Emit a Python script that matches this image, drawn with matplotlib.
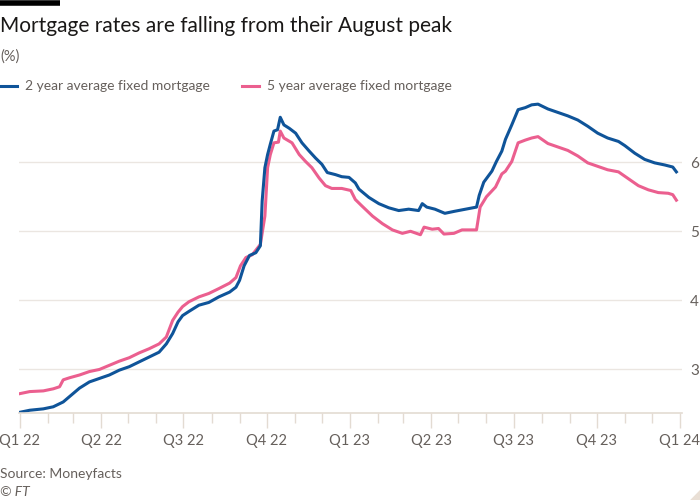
import pandas as pd
import matplotlib
matplotlib.use("Agg")
import matplotlib.pyplot as plt
import matplotlib.dates as mdates
from matplotlib.lines import Line2D
from matplotlib.patches import Polygon

# data: days since 1 Jan 2022 and rate (%)
start = pd.Timestamp("2022-01-01")

two_year_days = [0, 11, 26, 37, 48, 57, 66, 77, 88, 99, 110, 121, 132, 143, 154,
                 162, 169, 175, 180, 187, 198, 209, 220, 232, 239, 243, 248, 254,
                 261, 266, 268, 271, 274, 277, 281, 285, 288, 292, 298, 305, 312,
                 320, 327, 334, 340, 349, 356, 364, 371, 375, 386, 397, 408, 419,
                 430, 441, 445, 450, 459, 470, 481, 493, 505, 508, 513, 522, 527,
                 533, 537, 544, 551, 559, 566, 573, 584, 595, 606, 617, 628, 639,
                 650, 662, 669, 680, 691, 702, 713, 722, 726]
two_year = [2.38, 2.41, 2.43, 2.46, 2.53, 2.63, 2.73, 2.82, 2.87, 2.92, 2.99, 3.04,
            3.11, 3.18, 3.25, 3.37, 3.52, 3.69, 3.78, 3.84, 3.93, 3.97, 4.05, 4.12,
            4.19, 4.29, 4.50, 4.65, 4.69, 4.79, 5.44, 5.92, 6.11, 6.26, 6.45, 6.47,
            6.65, 6.54, 6.49, 6.42, 6.28, 6.16, 6.06, 5.97, 5.85, 5.82, 5.79, 5.78,
            5.70, 5.61, 5.49, 5.40, 5.34, 5.30, 5.32, 5.30, 5.40, 5.35, 5.32, 5.26,
            5.29, 5.32, 5.35, 5.52, 5.71, 5.87, 6.01, 6.16, 6.33, 6.54, 6.76, 6.79,
            6.83, 6.84, 6.77, 6.72, 6.67, 6.61, 6.52, 6.42, 6.35, 6.30, 6.24, 6.13,
            6.04, 5.99, 5.96, 5.93, 5.86]

five_year_days = [0, 11, 26, 37, 44, 48, 55, 66, 77, 88, 99, 110, 121, 132, 143,
                  154, 162, 169, 175, 180, 187, 198, 209, 220, 232, 239, 244, 250,
                  257, 266, 271, 274, 277, 281, 286, 288, 292, 301, 309, 316, 323,
                  331, 338, 345, 356, 366, 371, 378, 390, 401, 412, 423, 432, 443,
                  447, 456, 463, 469, 480, 489, 505, 509, 516, 526, 533, 537, 544,
                  551, 559, 566, 573, 584, 595, 606, 617, 628, 639, 650, 662, 673,
                  684, 695, 706, 717, 722, 726]
five_year = [2.65, 2.68, 2.69, 2.72, 2.75, 2.85, 2.88, 2.92, 2.97, 3.00, 3.06, 3.12,
             3.17, 3.24, 3.30, 3.37, 3.47, 3.71, 3.83, 3.91, 3.98, 4.05, 4.10, 4.17,
             4.25, 4.33, 4.50, 4.62, 4.66, 4.81, 5.22, 5.92, 6.11, 6.28, 6.29, 6.45,
             6.35, 6.28, 6.11, 6.01, 5.92, 5.77, 5.66, 5.62, 5.62, 5.59, 5.46, 5.37,
             5.22, 5.11, 5.02, 4.97, 5.00, 4.95, 5.06, 5.03, 5.04, 4.96, 4.97, 5.02,
             5.02, 5.35, 5.50, 5.64, 5.83, 5.87, 6.01, 6.28, 6.32, 6.35, 6.37, 6.27,
             6.22, 6.17, 6.09, 5.99, 5.94, 5.89, 5.86, 5.76, 5.66, 5.60, 5.56, 5.55,
             5.53, 5.45]

quarter_labels = ["Q1 22", "Q2 22", "Q3 22", "Q4 22", "Q1 23",
                  "Q2 23", "Q3 23", "Q4 23", "Q1 24"]
y_ticks = [3, 4, 5, 6]

blue = "#0f5499"
pink = "#eb5f8f"
grey_text = "#66605c"
grid_col = "#ebe6e1"
axis_col = "#e3dbd2"

plt.rcParams["font.family"] = ["Lato", "DejaVu Sans"]

x2 = start + pd.to_timedelta(two_year_days, unit="D")
x5 = start + pd.to_timedelta(five_year_days, unit="D")

fig = plt.figure(figsize=(7, 5), dpi=100)
ax = fig.add_axes([0.027, 0.174, 0.947, 0.626])

l5, = ax.plot(x5, five_year, color=pink, lw=2.2, label="5 year average fixed mortgage")
l2, = ax.plot(x2, two_year, color=blue, lw=2.2, label="2 year average fixed mortgage")

ax.set_ylim(2.37, 6.9)
ax.set_xlim(start - pd.Timedelta(days=1), pd.Timestamp("2024-01-03"))

# y axis on the right, no tick marks
ax.yaxis.tick_right()
ax.set_yticks(y_ticks)
ax.set_yticklabels([str(v) for v in y_ticks])
ax.tick_params(axis="y", length=0, pad=6, labelsize=11, labelcolor=grey_text)
ax.grid(axis="y", color=grid_col, lw=1)

# quarters with monthly minor ticks
quarters = pd.date_range("2022-01-01", "2024-01-01", freq="QS")
ax.set_xticks(quarters)
ax.set_xticklabels(quarter_labels)
ax.xaxis.set_minor_locator(mdates.MonthLocator())
ax.tick_params(axis="x", which="major", length=11, width=1, color=axis_col,
               labelsize=10.5, labelcolor=grey_text, pad=4)
ax.tick_params(axis="x", which="minor", length=7, width=1, color=axis_col)

for side in ["top", "left", "right"]:
    ax.spines[side].set_visible(False)
ax.spines["bottom"].set_color(axis_col)
ax.spines["bottom"].set_linewidth(1.2)
ax.set_axisbelow(True)

# header
fig.add_artist(Line2D([0, 60 / 700], [0.995, 0.995], color="black", lw=4,
                      solid_capstyle="butt"))
fig.text(0.0, 0.948, "Mortgage rates are falling from their August peak",
         fontsize=15, color="#1a1817", va="center", ha="left")
fig.text(0.0, 0.886, "(%)", fontsize=10.5, color=grey_text, va="center")
fig.legend(handles=[l2, l5], loc="center left", bbox_to_anchor=(0.0, 0.827),
           ncol=2, frameon=False, fontsize=10, labelcolor=grey_text,
           borderpad=0, borderaxespad=0,
           handlelength=1.25, handletextpad=0.55, columnspacing=2.3)

# footer
fig.text(0.0, 0.052, "Source: Moneyfacts", fontsize=10, color=grey_text, va="center")
fig.text(0.0, 0.016, "© FT", fontsize=10, color=grey_text, va="center",
         style="italic")
fig.add_artist(Polygon([[1.0, 0.0], [1.0, 0.02], [0.986, 0.0]], closed=True,
                       transform=fig.transFigure, color="#e9dfd5", lw=0))

fig.savefig("out.png", dpi=100, facecolor="white")
